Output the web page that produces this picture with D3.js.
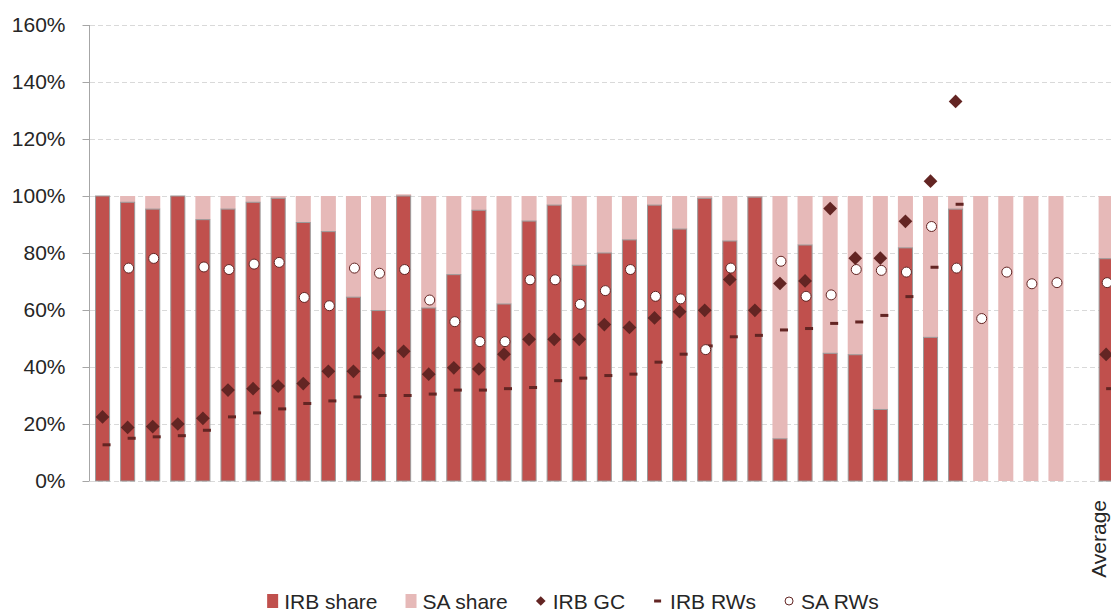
<!DOCTYPE html>
<html>
<head>
<meta charset="utf-8">
<script src="https://cdn.jsdelivr.net/npm/d3@7"></script>
<style>
  body { margin: 0; background: #fff; }
  svg { display: block; font-family: "Liberation Sans", Arial, sans-serif; }
  .axis text { font-size: 21px; fill: #262626; }
  .legend text { font-size: 21px; fill: #262626; }
</style>
</head>
<body>
<div id="chart"></div>
<script>
// values in percent, one slot per category (slot 39 is the blank gap before the average)
var categories = d3.range(41);
var catLabels = categories.map(function (i) { return i === 40 ? "Average" : ""; });

var irbShare = [100, 97.8, 95.4, 100, 91.7, 95.4, 97.8, 99.2, 90.7, 87.5,
                64.5, 59.8, 100, 60.7, 72.4, 95.0, 62.1, 91.2, 96.8, 75.7,
                80.0, 84.6, 96.8, 88.4, 99.2, 84.2, 99.6, 14.8, 82.8, 44.8,
                44.3, 25.1, 81.8, 50.4, 95.4, 0, 0, 0, 0, null, 78.0];
var saShare = [0, 2.2, 4.6, 0, 8.3, 4.6, 2.2, 0.8, 9.3, 12.5,
               35.5, 40.2, 0.6, 39.3, 27.6, 5.0, 37.9, 8.8, 3.2, 24.3,
               20.0, 15.4, 3.2, 11.6, 0.8, 15.8, 0.4, 85.2, 17.2, 55.2,
               55.7, 74.9, 18.2, 49.6, 4.6, 100, 100, 100, 100, null, 22.0];
var irbGC = [22.5, 18.8, 19.1, 20.0, 22.0, 31.9, 32.4, 33.3, 34.2, 38.5,
             38.5, 44.9, 45.5, 37.5, 39.7, 39.3, 44.5, 49.7, 49.7, 49.7,
             54.9, 53.9, 57.2, 59.4, 59.9, 70.7, 59.9, 69.3, 70.2, 95.6,
             78.2, 78.2, 91.1, 105.2, 133.2, null, null, null, null, null, 44.4];
var irbRWs = [12.7, 15.0, 15.5, 15.9, 17.8, 22.5, 23.9, 25.3, 27.2, 28.1,
              29.5, 30.0, 30.0, 30.5, 31.9, 31.9, 32.4, 32.8, 35.2, 36.1,
              37.0, 37.5, 41.7, 44.5, 47.4, 50.6, 51.1, 53.0, 53.5, 55.3,
              55.8, 58.1, 64.7, 75.0, 97.1, null, null, null, null, null, 32.4];
var saRWs = [null, 74.7, 78.1, null, 75.1, 74.2, 76.1, 76.7, 64.4, 61.5,
             74.7, 72.9, 74.2, 63.5, 55.9, 48.9, 48.9, 70.6, 70.6, 62.0,
             66.8, 74.2, 64.8, 63.9, 46.1, 74.7, null, 77.1, 64.8, 65.3,
             74.2, 73.9, 73.3, 89.3, 74.7, 57.0, 73.3, 69.2, 69.6, null, 69.6];
var yTicks = [0, 20, 40, 60, 80, 100, 120, 140, 160];
var legendItems = ["IRB share", "SA share", "IRB GC", "IRB RWs", "SA RWs"];

var colors = { irb: "#c0504d", sa: "#e6b9b8", dark: "#632523" };

var width = 1111, height = 613;
var margin = { top: 25, left: 90, bottom: 132 };

var svg = d3.select("#chart").append("svg")
    .attr("width", width)
    .attr("height", height);

var x = d3.scaleBand()
    .domain(categories)
    .range([margin.left, margin.left + 41 * 25.09])
    .paddingInner(0.4)
    .paddingOuter(0.2);

var y = d3.scaleLinear()
    .domain([0, 160])
    .range([height - margin.bottom, margin.top]);

// gridlines
svg.append("g").selectAll("line")
    .data(yTicks)
  .enter().append("line")
    .attr("x1", margin.left)
    .attr("x2", width)
    .attr("y1", function (d) { return y(d) + 0.5; })
    .attr("y2", function (d) { return y(d) + 0.5; })
    .attr("stroke", "#d9d9d9")
    .attr("stroke-width", 1)
    .attr("stroke-dasharray", "5,3");

// y axis
var yAxis = svg.append("g")
    .attr("class", "axis")
    .attr("transform", "translate(" + (margin.left - 0.5) + ",0)")
    .call(d3.axisLeft(y).tickValues(yTicks).tickSize(7).tickPadding(17)
        .tickFormat(function (d) { return d + "%"; }));
yAxis.select(".domain").attr("stroke", "#a6a6a6").attr("d", "M0," + y(160) + "V" + y(0));
yAxis.selectAll(".tick line").attr("stroke", "#a6a6a6");

var bw = x.bandwidth();

// SA share stacked on IRB share
svg.append("g").selectAll("rect")
    .data(categories.filter(function (i) { return saShare[i] != null && saShare[i] > 0; }))
  .enter().append("rect")
    .attr("x", function (i) { return x(i); })
    .attr("width", bw)
    .attr("y", function (i) { return y(irbShare[i] + saShare[i]); })
    .attr("height", function (i) { return y(irbShare[i]) - y(irbShare[i] + saShare[i]); })
    .attr("fill", colors.sa);

// IRB share
svg.append("g").selectAll("rect")
    .data(categories.filter(function (i) { return irbShare[i] != null; }))
  .enter().append("rect")
    .attr("x", function (i) { return x(i) + 0.5; })
    .attr("width", bw - 1)
    .attr("y", function (i) { return y(irbShare[i]); })
    .attr("height", function (i) { return y(0) - y(irbShare[i]); })
    .attr("fill", colors.irb)
    .attr("stroke", "#9a9a9a")
    .attr("stroke-width", 1);

// IRB RWs as short dashes
svg.append("g").selectAll("rect")
    .data(categories.filter(function (i) { return irbRWs[i] != null; }))
  .enter().append("rect")
    .attr("x", function (i) { return x(i) + bw / 2; })
    .attr("y", function (i) { return y(irbRWs[i]) - 1.5; })
    .attr("width", 8)
    .attr("height", 3)
    .attr("fill", colors.dark);

// SA RWs as open circles
svg.append("g").selectAll("circle")
    .data(categories.filter(function (i) { return saRWs[i] != null; }))
  .enter().append("circle")
    .attr("cx", function (i) { return x(i) + bw / 2 + 1; })
    .attr("cy", function (i) { return y(saRWs[i]); })
    .attr("r", 5)
    .attr("fill", "#fff")
    .attr("stroke", colors.dark)
    .attr("stroke-width", 1);

// IRB GC as diamonds
var diamond = d3.symbol().type(d3.symbolDiamond2).size(120);
svg.append("g").selectAll("path")
    .data(categories.filter(function (i) { return irbGC[i] != null; }))
  .enter().append("path")
    .attr("d", diamond)
    .attr("transform", function (i) {
        return "translate(" + (x(i) + bw / 2) + "," + y(irbGC[i]) + ")";
    })
    .attr("fill", colors.dark);

// category label (only the average is named)
svg.append("g").attr("class", "axis").selectAll("text")
    .data(categories.filter(function (i) { return catLabels[i] !== ""; }))
  .enter().append("text")
    .attr("transform", function (i) {
        return "translate(" + (x(i) + bw / 2) + "," + (y(0) + 19) + ") rotate(-90)";
    })
    .attr("text-anchor", "end")
    .attr("font-size", "22px")
    .text(function (i) { return catLabels[i]; });

// legend
var legend = svg.append("g").attr("class", "legend");
var lx = 0;
var legendY = 601;
legendItems.forEach(function (name, k) {
    var g = legend.append("g").attr("transform", "translate(" + lx + "," + legendY + ")");
    if (k === 0 || k === 1) {
        g.append("rect").attr("x", 0).attr("y", -7).attr("width", 11).attr("height", 14)
            .attr("fill", k === 0 ? colors.irb : colors.sa);
    } else if (k === 2) {
        g.append("path").attr("d", d3.symbol().type(d3.symbolDiamond2).size(60))
            .attr("transform", "translate(5,0)").attr("fill", colors.dark);
    } else if (k === 3) {
        g.append("rect").attr("x", 1).attr("y", -1.5).attr("width", 7).attr("height", 3)
            .attr("fill", colors.dark);
    } else {
        g.append("circle").attr("cx", 5).attr("cy", 0).attr("r", 4)
            .attr("fill", "#fff").attr("stroke", colors.dark).attr("stroke-width", 1);
    }
    var t = g.append("text").attr("x", 17).attr("y", 7.5).text(name);
    lx += 17 + t.node().getComputedTextLength() + 28;
});
var legW = lx - 28;
legend.attr("transform", "translate(" + (573 - legW / 2) + ",0)");
</script>
</body>
</html>
